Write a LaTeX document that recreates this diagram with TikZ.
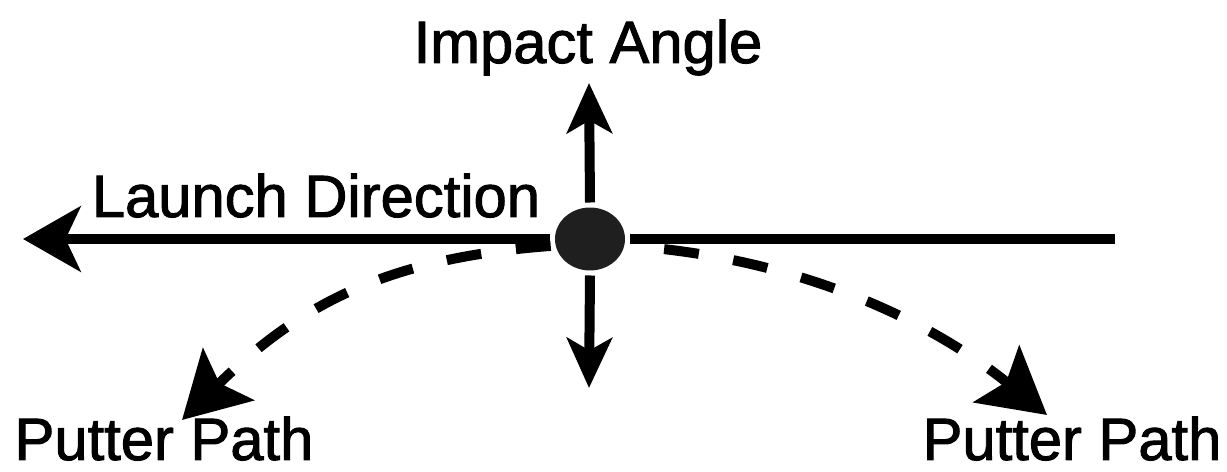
\documentclass[tikz,border=0pt]{standalone}
\usepackage{fontspec}
\setmainfont{Liberation Sans}
\newfontfamily\labelfont[FakeBold=1.6]{Liberation Sans}
\usetikzlibrary{arrows.meta,shapes.geometric}

\begin{document}
\begin{tikzpicture}[x=0.02cm,y=-0.02cm,line width=0.2cm,
  label/.style={font=\labelfont\fontsize{34}{40}\selectfont,anchor=base,inner sep=0pt},
  ball/.style={ellipse,fill=black!88,minimum width=1.4cm,minimum height=1.26cm,inner sep=0pt},
  tipH/.style={-{Stealth[length=1.15cm,width=1.3cm,inset=0.3cm]}},
  tipV/.style={-{Stealth[length=1.0cm,width=0.9cm,inset=0.25cm]}},
  tipD/.style={-{Stealth[length=1.3cm,width=1.45cm,inset=0.25cm]}},
  dashline/.style={dash pattern=on 0.7cm off 0.7cm}]
\useasboundingbox (0,0) rectangle (1227,472);
% ball and the ends of the lines
\node[ball] (ball) at (590,239) {};
\coordinate (west) at (23,239);
\coordinate (east) at (1115,239);
\coordinate (top) at (589,83);
\coordinate (bottom) at (589,388);
\coordinate (pathL) at (182,420);
\coordinate (pathR) at (1047,415);
% labels
\node[label] (impact) at (588,63) {Impact Angle};
\node[label] (launch) at (316,217) {Launch Direction};
\node[label] (putterL) at (164,460) {Putter Path};
\node[label] (putterR) at (1072,460) {Putter Path};
% lines
\draw (east) -- (ball.east);
\draw[tipH] (ball.west) -- (west);
\draw[tipV] (ball.north) -- (top);
\draw[tipV] (ball.south) -- (bottom);
\draw[dashline,tipD] (ball.190) .. controls (390,258) and (302,302) .. (pathL);
\draw[dashline,dash phase=0.7cm,tipD] (ball.-10) .. controls (800,258) and (931,321) .. (pathR);
\end{tikzpicture}
\end{document}
